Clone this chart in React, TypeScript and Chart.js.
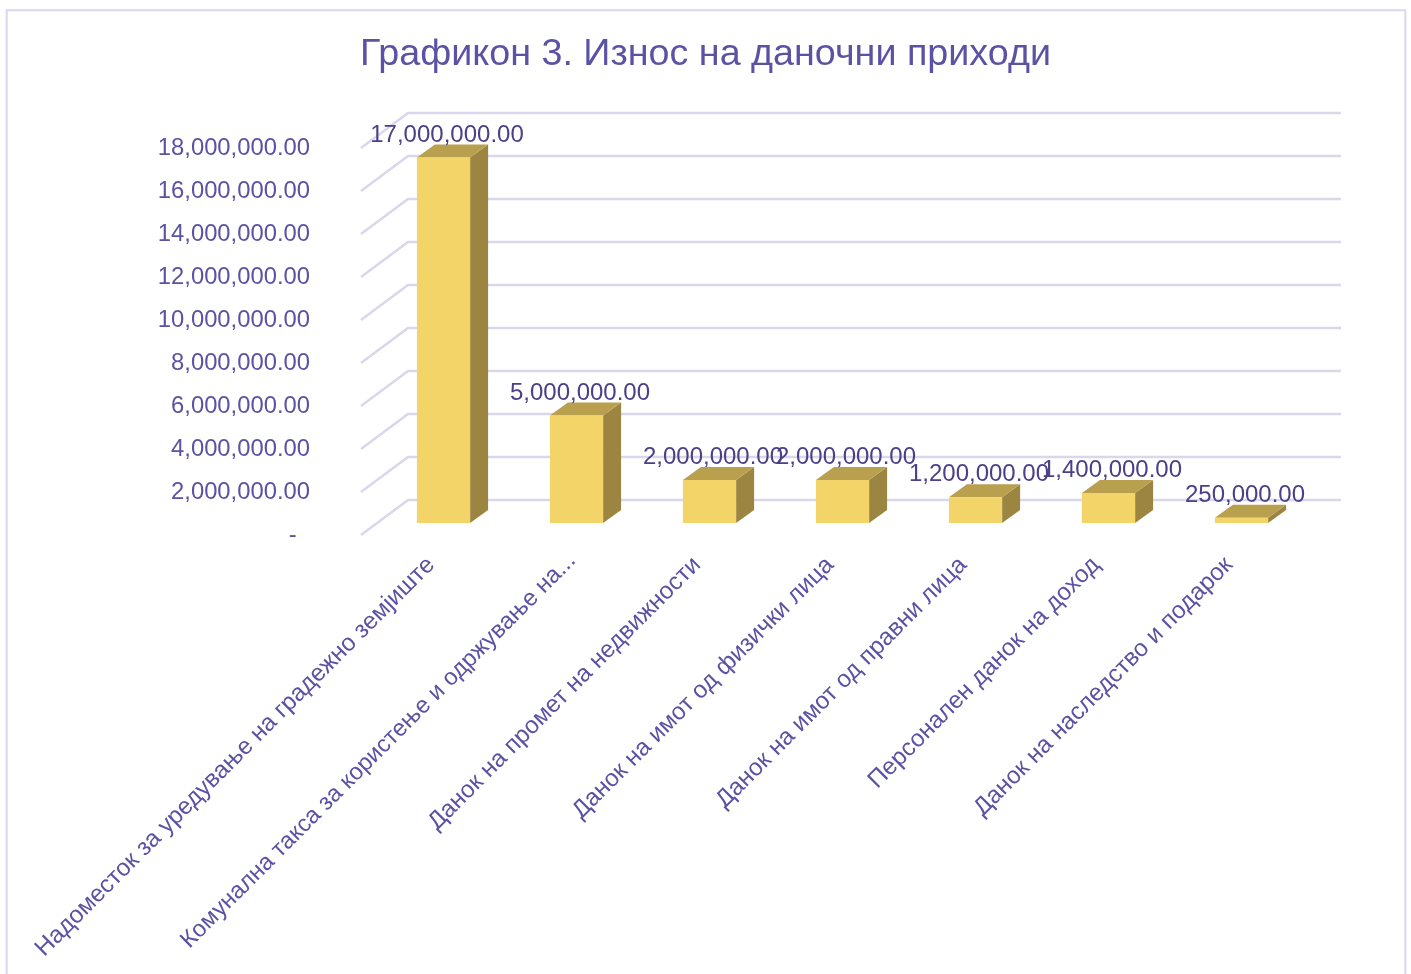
import React, { useEffect, useRef } from "react";
import { Chart, registerables } from "chart.js";

Chart.register(...registerables);

const titleText = "Графикон 3. Износ на даночни приходи";
const categories = [
  "Надоместок за уредување на градежно земјиште",
  "Комунална такса за користење и одржување на...",
  "Данок на промет на недвижности",
  "Данок на имот од физички лица",
  "Данок на имот од правни лица",
  "Персонален данок на доход",
  "Данок на наследство и подарок",
];
const values = [17000000, 5000000, 2000000, 2000000, 1200000, 1400000, 250000];
const axisMax = 18000000;
const axisStep = 2000000;

const FONT = "'Liberation Sans', Arial, sans-serif";
const LABEL = "#5b52a3";
const DATA_LABEL = "#4b4088";
const GRID = "#d9d7ec";
const FRONT = "#f3d469";
const SIDE = "#9c8540";
const TOP = "#b9a04f";

const fmt = (v: number) =>
  v.toLocaleString("en-US", { minimumFractionDigits: 2, maximumFractionDigits: 2 });

const wallPlugin = {
  id: "wall",
  beforeDatasetsDraw(chart: any) {
    const { ctx, scales } = chart;
    ctx.save();
    // frame
    ctx.strokeStyle = GRID;
    ctx.lineWidth = 2;
    ctx.beginPath();
    ctx.moveTo(6.7, 974);
    ctx.lineTo(6.7, 10.3);
    ctx.lineTo(1405.3, 10.3);
    ctx.lineTo(1405.3, 974);
    ctx.stroke();
    // walls
    ctx.lineWidth = 2.5;
    for (const t of scales.y.ticks) {
      const y = scales.y.getPixelForValue(t.value);
      ctx.beginPath();
      ctx.moveTo(361, y + 12);
      ctx.lineTo(408, y - 23);
      ctx.lineTo(1341, y - 23);
      ctx.stroke();
    }
    ctx.restore();
  },
};

const boxPlugin = {
  id: "box",
  beforeDraw(chart: any) {
    // the truncated second category sits further right than the others
    const items = chart.scales.x.getLabelItems(chart.chartArea);
    if (items[1] && !items[1].__moved) {
      items[1].options.translation[0] += 8;
      items[1].options.translation[1] -= 4;
      items[1].__moved = true;
    }
  },
  beforeDatasetsDraw(chart: any) {
    const { ctx } = chart;
    const dx = 18;
    const dy = 13;
    ctx.save();
    chart.getDatasetMeta(0).data.forEach((bar: any) => {
      const half = bar.width / 2;
      const l = bar.x - half;
      const r = bar.x + half;
      ctx.fillStyle = SIDE;
      ctx.beginPath();
      ctx.moveTo(r, bar.base);
      ctx.lineTo(r + dx, bar.base - dy);
      ctx.lineTo(r + dx, bar.y - dy);
      ctx.lineTo(r, bar.y);
      ctx.closePath();
      ctx.fill();
      ctx.fillStyle = TOP;
      ctx.beginPath();
      ctx.moveTo(l, bar.y);
      ctx.lineTo(l + dx, bar.y - dy);
      ctx.lineTo(r + dx, bar.y - dy);
      ctx.lineTo(r, bar.y);
      ctx.closePath();
      ctx.fill();
    });
    ctx.restore();
  },
  afterDatasetsDraw(chart: any) {
    const { ctx } = chart;
    ctx.save();
    ctx.font = `24px ${FONT}`;
    ctx.fillStyle = DATA_LABEL;
    ctx.textAlign = "center";
    ctx.textBaseline = "middle";
    chart.getDatasetMeta(0).data.forEach((bar: any, i: number) => {
      ctx.fillText(fmt(values[i]), bar.x + 3.5, bar.y - 22.5);
    });
    ctx.restore();
  },
};

export default function App() {
  const ref = useRef<HTMLCanvasElement | null>(null);
  useEffect(() => {
    const chart = new Chart(ref.current as HTMLCanvasElement, {
      type: "bar",
      data: {
        labels: categories,
        datasets: [
          {
            data: values,
            backgroundColor: FRONT,
            barPercentage: 0.4,
            categoryPercentage: 1,
          },
        ],
      },
      options: {
        responsive: false,
        animation: false,
        devicePixelRatio: 1,
        layout: { padding: 0 },
        plugins: {
          legend: { display: false },
          tooltip: { enabled: false },
          title: {
            display: true,
            text: titleText,
            color: LABEL,
            font: { family: FONT, size: 37.7, weight: "normal" },
            padding: { top: 32, bottom: 58.76 },
          },
        },
        scales: {
          x: {
            grid: { display: false, drawTicks: false },
            border: { display: false },
            afterFit: (s: any) => {
              s.height = 451;
              s.paddingLeft = 0;
              s.paddingRight = 0;
            },
            ticks: {
              autoSkip: false,
              minRotation: 45,
              maxRotation: 45,
              padding: 28,
              labelOffset: -12.5,
              color: LABEL,
              font: (c: any) => ({ family: FONT, size: c.index === 1 ? 23.7 : 24.2 }),
            },
          },
          y: {
            min: 0,
            max: axisMax,
            grid: { display: false, drawTicks: false },
            border: { display: false },
            afterFit: (s: any) => {
              s.width = 377;
            },
            ticks: {
              stepSize: axisStep,
              padding: 67,
              labelOffset: 12,
              color: LABEL,
              font: { family: FONT, size: 23.8 },
              callback: (v: any) => (Number(v) === 0 ? "-\u00a0\u00a0" : fmt(Number(v))),
            },
          },
          // empty right-hand axis: reserves the space to the right of the bars
          y2: {
            position: "right",
            display: true,
            grid: { display: false, drawTicks: false },
            border: { display: false },
            ticks: { display: false },
            afterFit: (s: any) => {
              s.width = 103;
            },
          },
        },
      },
      plugins: [wallPlugin, boxPlugin],
    } as any);
    return () => chart.destroy();
  }, []);
  return (
    <canvas
      ref={ref}
      width={1411}
      height={974}
      style={{ position: "absolute", left: 0, top: 0, display: "block" }}
    />
  );
}
